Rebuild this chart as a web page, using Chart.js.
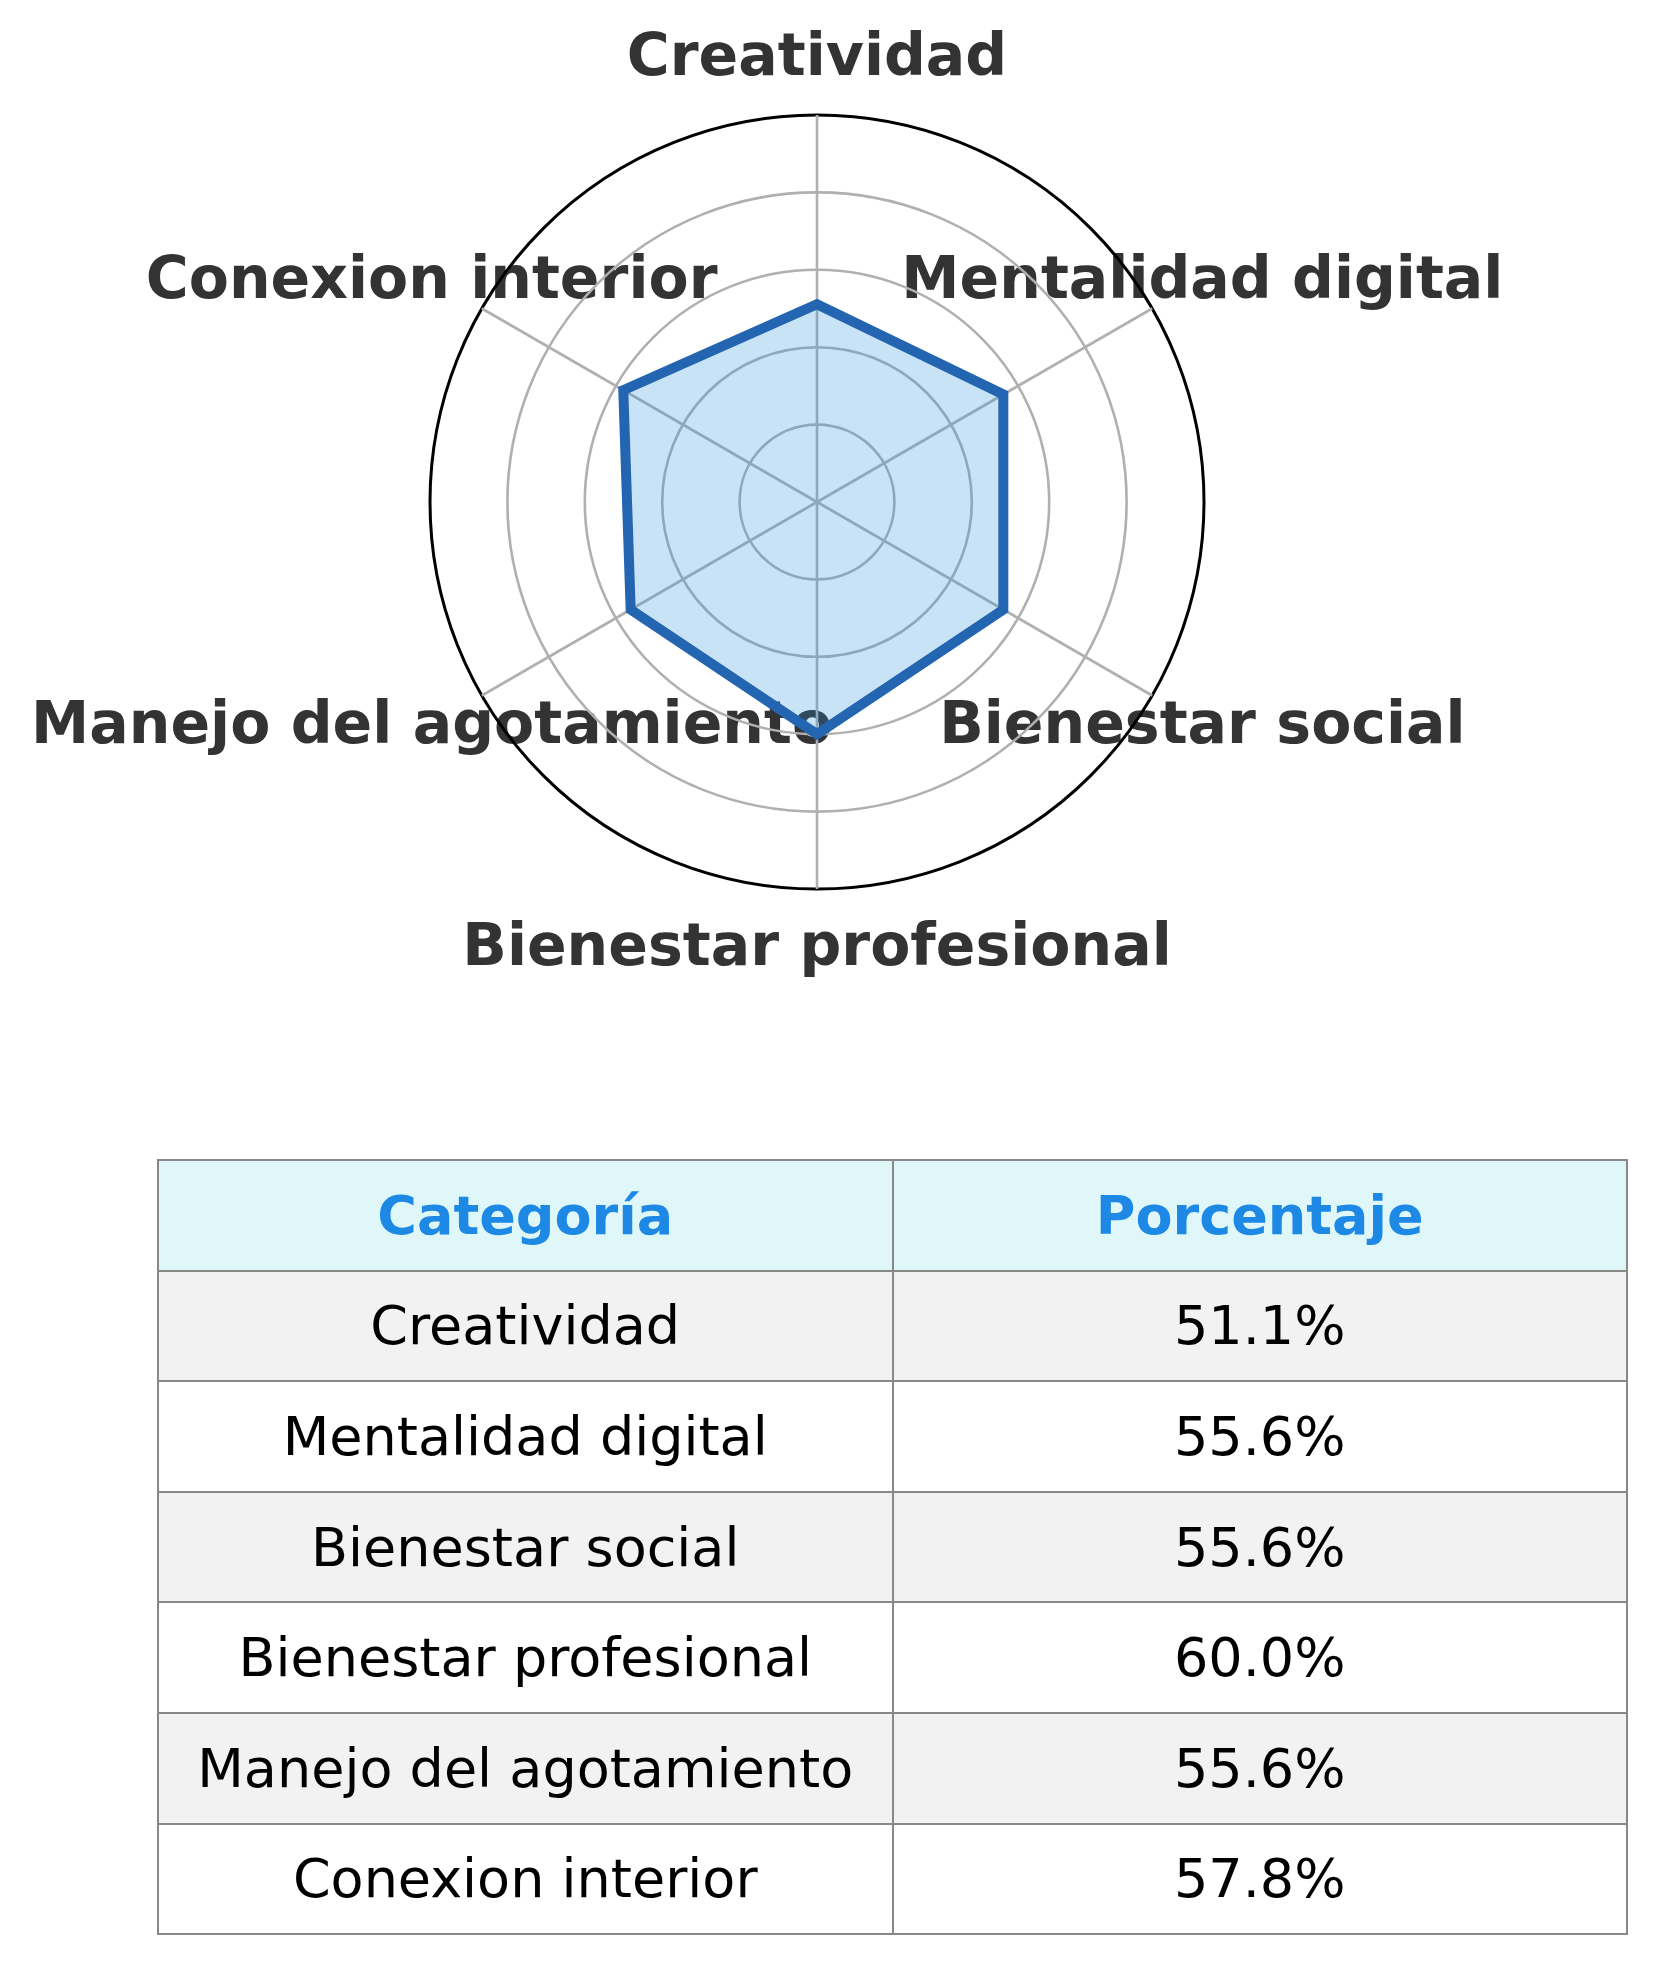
<!DOCTYPE html>
<html>
<head>
<meta charset="utf-8">
<script src="https://cdn.jsdelivr.net/npm/chart.js@4.4.0/dist/chart.umd.min.js"></script>
<style>
  html, body { margin:0; padding:0; background:#ffffff; width:1657px; height:1964px; overflow:hidden; }
  #wrap { position:absolute; left:0; top:0; width:1657px; height:1100px; }
  #tbl { position:absolute; left:157px; top:1159px; width:1471px; border-collapse:collapse; table-layout:fixed;
         font-family:"DejaVu Sans", sans-serif; font-size:54px; }
  #tbl th, #tbl td { border:2px solid #888888; padding:0; text-align:center; vertical-align:middle; }
  #tbl tr { height:110.6px; }
  #tbl th { background:#e0f7fa; color:#1e88e5; font-weight:bold; }
  #tbl td { color:#000000; font-weight:normal; }
  #tbl tr.odd td { background:#f2f2f2; }
  #tbl tr.even td { background:#ffffff; }
</style>
</head>
<body>
<div id="wrap"><canvas id="c"></canvas></div>
<table id="tbl"><thead><tr id="hdr"></tr></thead><tbody id="body"></tbody></table>
<script>
const categories = ['Creatividad', 'Mentalidad digital', 'Bienestar social', 'Bienestar profesional', 'Manejo del agotamiento', 'Conexion interior'];
const values = [51.1, 55.6, 55.6, 60.0, 55.6, 57.8];
const tableHeaders = ['Categoría', 'Porcentaje'];
const radialTicks = [0, 20, 40, 60, 80, 100];

// table
const hdr = document.getElementById('hdr');
tableHeaders.forEach(h => { const th = document.createElement('th'); th.textContent = h; hdr.appendChild(th); });
const body = document.getElementById('body');
categories.forEach((c, i) => {
  const tr = document.createElement('tr');
  tr.className = (i % 2 === 0) ? 'odd' : 'even';
  const td1 = document.createElement('td'); td1.textContent = c;
  const td2 = document.createElement('td'); td2.textContent = values[i].toFixed(1) + '%';
  tr.appendChild(td1); tr.appendChild(td2); body.appendChild(tr);
});

const labelFont = 'bold 58.5px "DejaVu Sans"';
const axisLabels = {
  id: 'axisLabels',
  beforeDraw(chart) {
    const s = chart.scales.r;
    const ctx = chart.ctx;
    ctx.save();
    ctx.font = labelFont;
    ctx.fillStyle = '#333333';
    ctx.textAlign = 'center';
    ctx.textBaseline = 'middle';
    categories.forEach((c, i) => {
      const p = s.getPointPosition(i, s.drawingArea + 58);
      ctx.fillText(c, p.x, p.y + 3);
    });
    ctx.restore();
  }
};

new Chart(document.getElementById('c'), {
  type: 'radar',
  data: {
    labels: categories,
    datasets: [{
      data: values,
      borderColor: '#2365b0',
      backgroundColor: 'rgba(30,144,215,0.25)',
      borderWidth: 10,
      borderJoinStyle: 'miter',
      pointRadius: 0,
      pointHoverRadius: 0,
      fill: true,
      tension: 0
    }]
  },
  options: {
    responsive: true,
    maintainAspectRatio: false,
    animation: false,
    layout: { padding: { left: 430, top: 115, right: 453, bottom: 211 } },
    plugins: { legend: { display: false }, tooltip: { enabled: false } },
    scales: {
      r: {
        min: radialTicks[0],
        max: radialTicks[radialTicks.length - 1],
        afterBuildTicks: (scale) => { scale.ticks = radialTicks.map(v => ({ value: v })); },
        ticks: { display: false },
        pointLabels: { display: false },
        grid: {
          circular: true,
          color: (ctx) => (ctx.tick && ctx.tick.value === 100) ? '#000000' : '#b0b0b0',
          lineWidth: (ctx) => (ctx.tick && ctx.tick.value === 100) ? 3 : 2.6
        },
        angleLines: { color: '#b0b0b0', lineWidth: 2.6 }
      }
    }
  },
  plugins: [axisLabels]
});
</script>
</body>
</html>
